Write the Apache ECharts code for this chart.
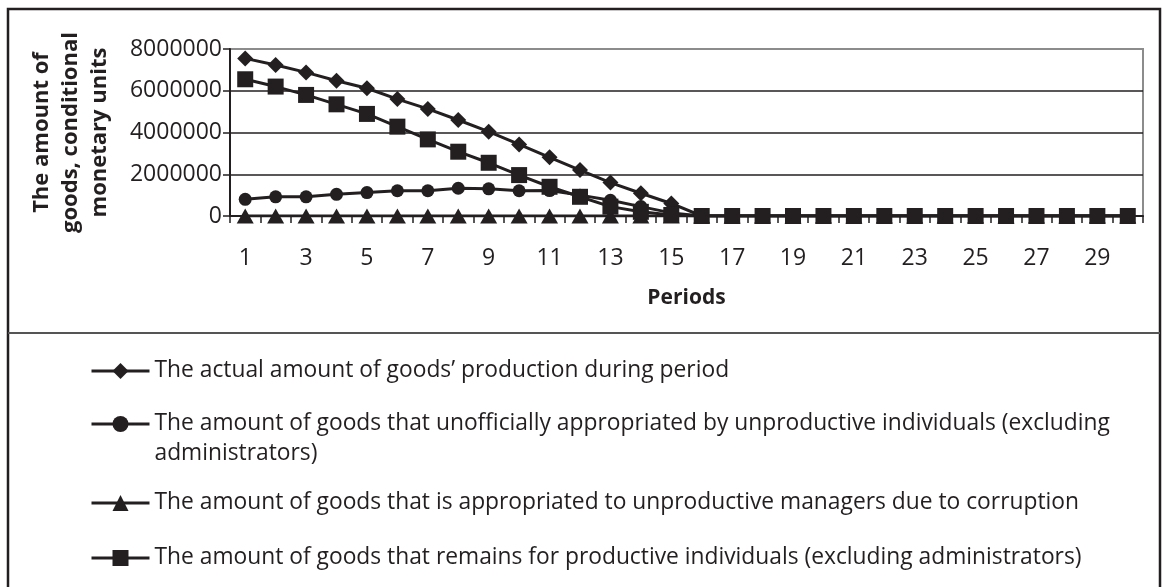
<!DOCTYPE html>
<html>
<head>
<meta charset="utf-8">
<script src="https://cdn.jsdelivr.net/npm/echarts@6/dist/echarts.min.js"></script>
<style>
  html, body { margin: 0; padding: 0; background: #fff; }
  #chart { width: 1162px; height: 587px; }
</style>
</head>
<body>
<div id="chart"></div>
<script>
  // periods 1..30
  const periods = ['1', '2', '3', '4', '5', '6', '7', '8', '9', '10',
    '11', '12', '13', '14', '15', '16', '17', '18', '19', '20',
    '21', '22', '23', '24', '25', '26', '27', '28', '29', '30'];

  // y axis ticks
  const yMin = 0;
  const yMax = 8000000;
  const yStep = 2000000;

  const seriesNames = [
    "The actual amount of goods\u2019 production during period",
    'The amount of goods that unofficially appropriated by unproductive individuals (excluding administrators)',
    'The amount of goods that is appropriated to unproductive managers due to corruption',
    'The amount of goods that remains for productive individuals (excluding administrators)'
  ];

  const actualProduction = [7550000, 7230000, 6880000, 6480000, 6120000, 5600000, 5130000, 4600000, 4040000, 3430000,
    2810000, 2200000, 1600000, 1090000, 600000, 0, 0, 0, 0, 0,
    0, 0, 0, 0, 0, 0, 0, 0, 0, 0];
  const unofficial = [800000, 920000, 920000, 1040000, 1120000, 1210000, 1210000, 1330000, 1300000, 1210000,
    1220000, 1000000, 750000, 450000, 150000, 0, 0, 0, 0, 0,
    0, 0, 0, 0, 0, 0, 0, 0, 0, 0];
  const corruption = [0, 0, 0, 0, 0, 0, 0, 0, 0, 0,
    0, 0, 0, 0, 0, 0, 0, 0, 0, 0,
    0, 0, 0, 0, 0, 0, 0, 0, 0, 0];
  const remaining = [6550000, 6200000, 5800000, 5350000, 4890000, 4280000, 3670000, 3080000, 2550000, 1960000,
    1400000, 920000, 450000, 200000, 50000, 0, 0, 0, 0, 0,
    0, 0, 0, 0, 0, 0, 0, 0, 0, 0];

  const ink = '#231f20';
  const font = 'Open Sans';

  function lineSeries(name, data, symbol, size) {
    return {
      name: name,
      type: 'line',
      data: data,
      symbol: symbol,
      symbolSize: size,
      showSymbol: true,
      lineStyle: { color: ink, width: 3 },
      itemStyle: { color: ink }
    }
  }

  // one legend per row so each row sits where it should
  function legendRow(name, top, extra) {
    let lg = {
      data: [name],
      orient: 'vertical',
      left: 90,
      top: top,
      padding: 0,
      itemWidth: 58,
      itemHeight: 20,
      itemGap: 0,
      selectedMode: false,
      lineStyle: { width: 3, color: ink },
      textStyle: { color: ink, fontFamily: font, fontSize: 22.8, lineHeight: 30 }
    };
    return Object.assign(lg, extra || {});
  }

  const chart = echarts.init(document.getElementById('chart'));
  const option = {
    animation: false,
    backgroundColor: '#fff',
    grid: {
      left: 230, right: 19, top: 49, bottom: 371,
      show: true,
      borderColor: '#8c8c8c',
      borderWidth: 2
    },
    xAxis: {
      type: 'category',
      data: periods,
      boundaryGap: true,
      name: 'Periods',
      nameLocation: 'middle',
      nameGap: 72,
      nameTextStyle: { color: ink, fontFamily: font, fontSize: 21, fontWeight: 'bold' },
      axisLine: { lineStyle: { color: ink, width: 2 } },
      axisTick: { show: true, interval: 0, length: 7, lineStyle: { color: ink, width: 1.5 } },
      axisLabel: { interval: 1, margin: 31, color: ink, fontFamily: font, fontSize: 23 }
    },
    yAxis: {
      type: 'value',
      min: yMin,
      max: yMax,
      interval: yStep,
      name: 'The amount of\ngoods, conditional\nmonetary units',
      nameLocation: 'middle',
      nameRotate: 90,
      nameGap: 116,
      nameTextStyle: { color: ink, fontFamily: font, fontSize: 22, fontWeight: 'bold', lineHeight: 29, align: 'center' },
      axisLine: { show: true, lineStyle: { color: ink, width: 2 } },
      axisTick: { show: true, length: 7, lineStyle: { color: ink, width: 1.5 } },
      axisLabel: {
        margin: 8, color: ink, fontFamily: font, fontSize: 23,
        formatter: function (v) { return String(v); }
      },
      splitLine: { lineStyle: { color: [ink, ink, ink, ink, '#8c8c8c'], width: 1.5 } }
    },
    legend: [
      legendRow(seriesNames[0], 356),
      // blank first line keeps the icon level with the first text line
      legendRow(seriesNames[1], 379, {
        formatter: function (name) {
          return '\n' + name.replace('(excluding ', '(excluding\n');
        }
      }),
      legendRow(seriesNames[2], 488),
      legendRow(seriesNames[3], 543)
    ],
    graphic: [
      {
        type: 'rect', silent: true, z: 100,
        shape: { x: 8, y: 9, width: 1152, height: 640 },
        style: { fill: null, stroke: ink, lineWidth: 2.5 }
      },
      {
        type: 'line', silent: true, z: 100,
        shape: { x1: 8, y1: 333, x2: 1160, y2: 333 },
        style: { stroke: '#555', lineWidth: 2 }
      }
    ],
    series: [
      lineSeries(seriesNames[0], actualProduction, 'diamond', 16),
      lineSeries(seriesNames[1], unofficial, 'circle', 13),
      lineSeries(seriesNames[2], corruption, 'triangle', [17, 15]),
      lineSeries(seriesNames[3], remaining, 'rect', 16)
    ]
  };
  chart.setOption(option);
</script>
</body>
</html>
